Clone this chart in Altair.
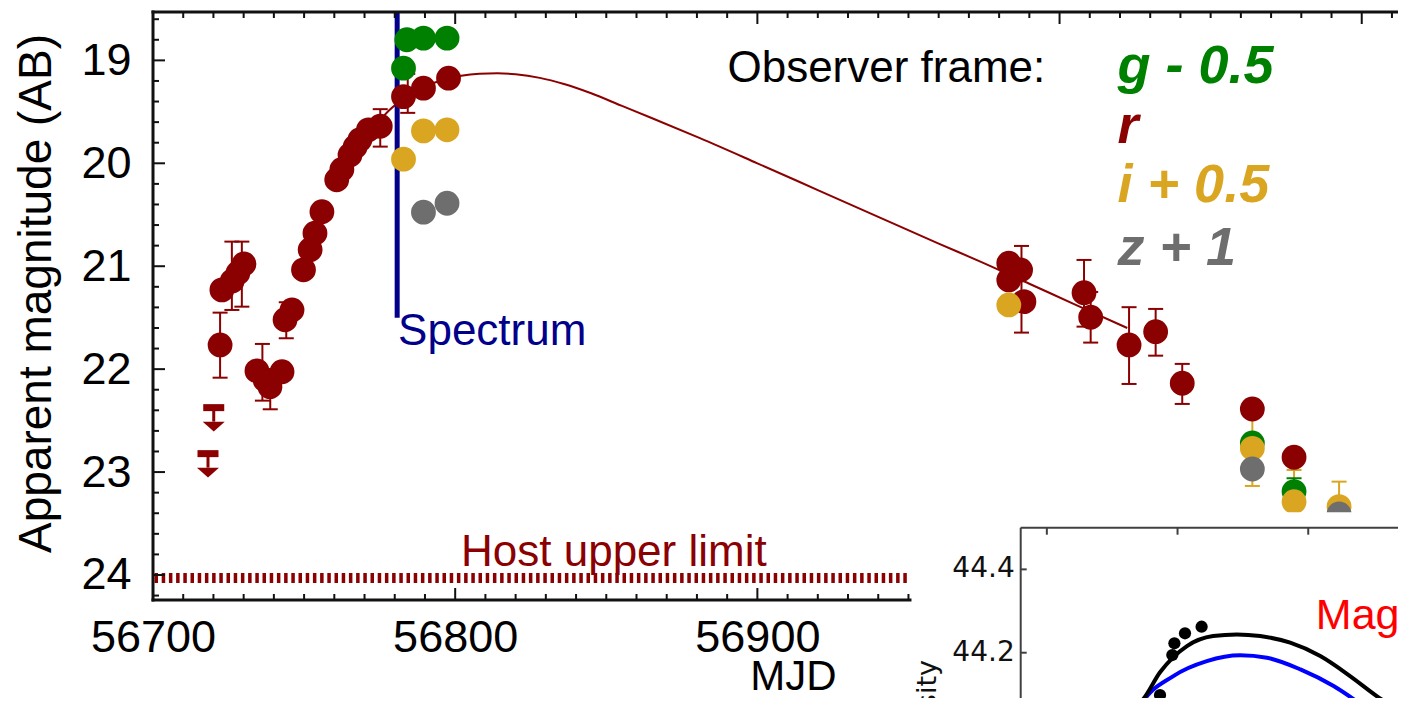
import altair as alt
import pandas as pd
import numpy as np

# ---------------- data ----------------
BAND_ORDER = ["r", "g", "i", "z"]
BAND_COLORS = ["#8B0000", "#008000", "#DAA520", "#6E6E6E"]

r_mjd = [56722.2, 56722.8, 56726.2, 56728.1, 56730.1, 56734.4, 56737.1, 56738.7, 56742.7,
         56743.7, 56746.0, 56749.8, 56752.0, 56753.6, 56755.9, 56760.8, 56762.5, 56765.2,
         56766.9, 56768.5, 56771.3, 56775.2, 56782.9, 56789.5, 56797.8,
         56983.2, 56987.1, 56983.2, 56988.2, 57008.1, 57010.3, 57023.0, 57031.8, 57040.6,
         57063.8, 57077.6]
r_mag = [21.765, 21.23, 21.144, 21.065, 20.978, 22.017, 22.105, 22.17, 22.025,
         21.52, 21.425, 21.035, 20.84, 20.68, 20.47, 20.16, 20.06, 19.92,
         19.84, 19.77, 19.675, 19.64, 19.352, 19.27, 19.173,
         20.971, 21.036, 21.133, 21.344, 21.257, 21.496, 21.765, 21.636, 22.137,
         22.387, 22.856]
g_mjd = [56782.9, 56784.0, 56789.5, 56797.3, 57063.8, 57077.6]
g_mag = [19.076, 18.80, 18.784, 18.784, 22.717, 23.19]
i_mjd = [56782.9, 56789.5, 56797.3, 56983.2, 57063.8, 57077.6, 57092.5]
i_mag = [19.96, 19.685, 19.675, 21.376, 22.769, 23.288, 23.336]
z_mjd = [56789.5, 56797.3, 57063.8, 57092.5]
z_mag = [20.475, 20.388, 22.97, 23.407]

# error bars: band, MJD, bright end, faint end
eb_band = ["r", "r", "r", "r", "r", "r", "r", "r", "r", "r", "r", "r", "r", "r",
           "i", "i", "g", "i"]
eb_mjd = [56722.2, 56726.1, 56729.4, 56736.2, 56738.8, 56744.1, 56775.2, 56784.3,
          56987.4, 57008.1, 57010.3, 57023.0, 57031.8, 57040.6,
          57063.8, 57077.6, 57077.6, 57092.5]
eb_lo = [21.451, 20.761, 20.761, 21.755, 22.0, 21.35, 19.474, 19.131,
         20.803, 20.939, 21.25, 21.398, 21.415, 21.949,
         22.4, 22.98, 23.06, 23.093]
eb_hi = [22.083, 21.425, 21.393, 22.306, 22.39, 21.70, 19.838, 19.51,
         21.645, 21.587, 21.742, 22.144, 21.869, 22.338,
         23.135, 23.6, 23.32, 23.6]

# r-band upper limits
ul_mjd = [56720.1, 56718.2]
ul_mag = [22.374, 22.821]

# r-band model curve
model_mjd = [56774, 56778, 56784, 56790, 56796, 56802, 56808, 56814, 56820, 56828, 56836,
             56845, 56855, 56865, 56881, 56900, 56920, 56940, 56960, 56973.8, 56990,
             57005, 57022.4]
model_mag = [19.62, 19.49, 19.35, 19.25, 19.19, 19.15, 19.13, 19.125, 19.135, 19.17, 19.23,
             19.32, 19.44, 19.56, 19.756, 20.0, 20.26, 20.52, 20.78, 20.955, 21.17,
             21.37, 21.60]

spectrum_mjd = 56780.8
spectrum_end = 21.50
host_limit = 24.03
host_range = [56700.5, 56950]

legend_labels = ["g - 0.5", "r", "i + 0.5", "z + 1"]
legend_bands = ["g", "r", "i", "z"]
legend_mag = [19.222, 19.802, 20.372, 20.987]
legend_mjd = 57019.2

# inset (luminosity vs time)
inset_pt_t = [43.3, 48.0, 48.8, 52.85, 59.2]
inset_pt_L = [44.0985, 44.1945, 44.2226, 44.2466, 44.2624]
inset_tot_t = [29.5, 33.1, 36.8, 43.3, 53.6, 63.6, 72.7, 81.6, 93.1, 104.6, 116.0, 126.2, 135.2]
inset_tot_L = [44.02, 44.067, 44.088, 44.153, 44.216, 44.240, 44.244, 44.240, 44.224, 44.192,
               44.144, 44.096, 44.059]
inset_mag_t = [33.0, 35.7, 48.4, 61.2, 74.0, 84.2, 97.0, 109.7, 121.1, 131.4]
inset_mag_L = [44.04, 44.072, 44.144, 44.180, 44.194, 44.188, 44.160, 44.120, 44.072, 44.026]
inset_xticks = [0, 50, 100]
inset_yticks = [44.2, 44.4]

# ---------------- layout constants ----------------
X_MIN, X_MAX = 56700, 57112
W, H = 1245, 588
Y_TOP, Y_BOT = 18.53, 24.243
PXX = W / (X_MAX - X_MIN)
PXY = H / (Y_BOT - Y_TOP)

IX_DOM = [-10, 140]
IY_DOM = [44.0, 44.5]
IPXX = 2.614
IPXY = 416.7
IX_RANGE = [867.7, 867.7 + 150 * IPXX]
IY_RANGE = [515.7 + 0.5 * IPXY, 515.7]

SANS = "Liberation Sans, Arial"

XS = alt.Scale(domain=[X_MIN, X_MAX], nice=False, zero=False)
YS = alt.Scale(domain=[Y_TOP, Y_BOT], reverse=True, nice=False, zero=False)
COLOR = alt.Color("band:N", scale=alt.Scale(domain=BAND_ORDER, range=BAND_COLORS), legend=None)

XAXIS = alt.Axis(values=[56700, 56800, 56900], format="d", title="MJD", grid=False,
                 domain=False, ticks=False, tickSize=0, labelFont=SANS, labelFontSize=45,
                 labelColor="black", labelPadding=15, labelFlush=False, labelOverlap=False,
                 titleFont=SANS, titleFontSize=42, titleFontWeight="normal",
                 titleColor="black", titleX=640, titleY=89, titleAlign="center",
                 titleBaseline="alphabetic")
YAXIS = alt.Axis(values=[19, 20, 21, 22, 23, 24], format="d", title="Apparent magnitude (AB)",
                 grid=False, domain=False, ticks=False, tickSize=0, labelFont=SANS,
                 labelFontSize=45, labelColor="black", labelPadding=22, labelOverlap=False,
                 titleFont=SANS, titleFontSize=46, titleFontWeight="normal", titleColor="black",
                 titleAngle=270, titleX=-103, titleY=281, titleAlign="center",
                 titleBaseline="alphabetic")


def X(f):
    return alt.X(f, type="quantitative", scale=XS, axis=XAXIS)


def Y(f):
    return alt.Y(f, type="quantitative", scale=YS, axis=YAXIS)


def IX(f):
    return alt.X(f, type="quantitative", scale=alt.Scale(domain=IX_DOM, range=IX_RANGE,
                                                            nice=False, zero=False), axis=None)


def IY(f):
    return alt.Y(f, type="quantitative", scale=alt.Scale(domain=IY_DOM, range=IY_RANGE,
                                                            nice=False, zero=False), axis=None)


# ---------------- tables ----------------
pts = pd.concat([
    pd.DataFrame({"band": "r", "mjd": r_mjd, "mag": r_mag}),
    pd.DataFrame({"band": "g", "mjd": g_mjd, "mag": g_mag}),
    pd.DataFrame({"band": "i", "mjd": i_mjd, "mag": i_mag}),
    pd.DataFrame({"band": "z", "mjd": z_mjd, "mag": z_mag}),
], ignore_index=True)

CAP = 7.5 / PXX
eb = pd.DataFrame({"band": eb_band, "mjd": eb_mjd, "lo": eb_lo, "hi": eb_hi})
eb["c0"] = eb["mjd"] - CAP
eb["c1"] = eb["mjd"] + CAP
caps = pd.concat([eb.assign(cy=eb["lo"]), eb.assign(cy=eb["hi"])], ignore_index=True)

ul = pd.DataFrame({"mjd": ul_mjd, "mag": ul_mag})
ul["b0"] = ul["mjd"] - 10.5 / PXX
ul["b1"] = ul["mjd"] + 10.5 / PXX
ul["stem"] = ul["mag"] + 14 / PXY
ul["arrow"] = ul["mag"] + 19 / PXY

model = pd.DataFrame({"mjd": model_mjd, "mag": model_mag})
spec = pd.DataFrame({"mjd": [spectrum_mjd], "y0": [Y_TOP], "y1": [spectrum_end]})
host = pd.DataFrame({"x0": [host_range[0]], "x1": [host_range[1]], "mag": [host_limit]})

leg = pd.DataFrame({"label": legend_labels, "band": legend_bands, "mag": legend_mag,
                    "mjd": legend_mjd})

xt = np.arange(X_MIN + 10, X_MAX, 10)
xmaj = (xt % 100) == 0
tl = np.where(xmaj, 12, 6)
top_t = pd.DataFrame({"x": xt, "y0": Y_TOP, "y1": Y_TOP + tl / PXY})
bot_t = pd.DataFrame({"x": xt, "y0": Y_BOT, "y1": Y_BOT - tl / PXY})
yt = np.round(np.arange(18.6, 24.21, 0.2), 1)
ymaj = np.abs(yt - np.round(yt)) < 1e-6
yl = np.where(ymaj, 12, 6)
left_t = pd.DataFrame({"y": yt, "x0": X_MIN, "x1": X_MIN + yl / PXX})
frame_h = pd.DataFrame({"x0": [X_MIN, X_MIN], "x1": [X_MAX, X_MAX], "y": [Y_TOP, Y_BOT]})
frame_v = pd.DataFrame({"x": [X_MIN], "y0": [Y_TOP], "y1": [Y_BOT]})
cover = pd.DataFrame({"x0": [56951], "x1": [57140], "y0": [23.39], "y1": [25.8]})

# ---------------- main layers ----------------
host_l = alt.Chart(host).mark_rule(color="#8B0000", strokeWidth=10, strokeDash=[3.5, 3.7]).encode(
    x=X("x0"), x2="x1", y=Y("mag"))
model_l = alt.Chart(model).mark_line(color="#8B0000", strokeWidth=2, interpolate="monotone").encode(
    x=X("mjd"), y=Y("mag"))
spec_l = alt.Chart(spec).mark_rule(color="#00008B", strokeWidth=5).encode(
    x=X("mjd"), y=Y("y0"), y2="y1")
eb_l = alt.Chart(eb).mark_rule(strokeWidth=2).encode(
    x=X("mjd"), y=Y("lo"), y2="hi", color=COLOR)
cap_l = alt.Chart(caps).mark_rule(strokeWidth=2).encode(
    x=X("c0"), x2="c1", y=Y("cy"), color=COLOR)
ul_bar = alt.Chart(ul).mark_rule(color="#8B0000", strokeWidth=7).encode(
    x=X("b0"), x2="b1", y=Y("mag"))
ul_stem = alt.Chart(ul).mark_rule(color="#8B0000", strokeWidth=3).encode(
    x=X("mjd"), y=Y("mag"), y2="stem")
ul_arrow = alt.Chart(ul).mark_point(shape="M-1,-0.45L1,-0.45L0,0.45Z", filled=True,
                                    color="#8B0000", size=484, opacity=1).encode(
    x=X("mjd"), y=Y("arrow"))
pts_l = alt.Chart(pts).mark_circle(size=616, opacity=1).encode(
    x=X("mjd"), y=Y("mag"), color=COLOR)

obs_t = alt.Chart(pd.DataFrame({"t": ["Observer frame:"], "mjd": [56890.1], "mag": [19.209]})
                  ).mark_text(font=SANS, fontSize=44, align="left", baseline="alphabetic",
                              color="black").encode(x=X("mjd"), y=Y("mag"), text="t:N")
leg_t = alt.Chart(leg).mark_text(font=SANS, fontSize=54, fontStyle="italic", fontWeight="bold",
                                 align="left", baseline="alphabetic").encode(
    x=X("mjd"), y=Y("mag"), text="label:N", color=COLOR)
spec_t = alt.Chart(pd.DataFrame({"t": ["Spectrum"], "mjd": [56781.1], "mag": [21.765]})
                   ).mark_text(font=SANS, fontSize=44, align="left", baseline="alphabetic",
                               color="#00008B").encode(x=X("mjd"), y=Y("mag"), text="t:N")
host_t = alt.Chart(pd.DataFrame({"t": ["Host upper limit"], "mjd": [56852.5], "mag": [23.91]})
                   ).mark_text(font=SANS, fontSize=44, align="center", baseline="alphabetic",
                               color="#8B0000").encode(x=X("mjd"), y=Y("mag"), text="t:N")

tick_top = alt.Chart(top_t).mark_rule(color="#111111", strokeWidth=2).encode(
    x=X("x"), y=Y("y0"), y2="y1")
tick_bot = alt.Chart(bot_t).mark_rule(color="#111111", strokeWidth=2).encode(
    x=X("x"), y=Y("y0"), y2="y1")
tick_left = alt.Chart(left_t).mark_rule(color="#111111", strokeWidth=2).encode(
    x=X("x0"), x2="x1", y=Y("y"))
fr_h = alt.Chart(frame_h).mark_rule(color="#111111", strokeWidth=3, strokeCap="square").encode(
    x=X("x0"), x2="x1", y=Y("y"))
fr_v = alt.Chart(frame_v).mark_rule(color="#111111", strokeWidth=3, strokeCap="square").encode(
    x=X("x"), y=Y("y0"), y2="y1")
cover_l = alt.Chart(cover).mark_rect(color="white").encode(
    x=X("x0"), x2="x1", y=Y("y0"), y2="y1")

main = alt.layer(host_l, model_l, spec_l, eb_l, cap_l, ul_bar, ul_stem, ul_arrow, pts_l,
                 obs_t, leg_t, spec_t, host_t, tick_top, tick_bot, tick_left, fr_h, fr_v,
                 cover_l)

# ---------------- inset layers ----------------
ifr = pd.DataFrame({"x0": [IX_DOM[0]], "x1": [IX_DOM[1]], "y": [IY_DOM[1]]})
ifv = pd.DataFrame({"x": [IX_DOM[0]], "y0": [IY_DOM[1]], "y1": [43.9]})
itx = pd.DataFrame({"x": inset_xticks, "y0": IY_DOM[1], "y1": IY_DOM[1] - 7 / IPXY})
ity = pd.DataFrame({"y": inset_yticks, "x0": IX_DOM[0], "x1": IX_DOM[0] + 6 / IPXX,
                    "lab": [f"{v:.1f}" for v in inset_yticks]})

in_fh = alt.Chart(ifr).mark_rule(color="#404040", strokeWidth=2).encode(
    x=IX("x0"), x2="x1", y=IY("y"))
in_fv = alt.Chart(ifv).mark_rule(color="#404040", strokeWidth=2).encode(
    x=IX("x"), y=IY("y0"), y2="y1")
in_tx = alt.Chart(itx).mark_rule(color="#404040", strokeWidth=2).encode(
    x=IX("x"), y=IY("y0"), y2="y1")
in_ty = alt.Chart(ity).mark_rule(color="#404040", strokeWidth=2).encode(
    x=IX("x0"), x2="x1", y=IY("y"))
in_lab = alt.Chart(ity).mark_text(font="DejaVu Sans", fontSize=28, align="right",
                                  baseline="middle", dx=-6, color="#111111").encode(
    x=IX("x0"), y=IY("y"), text="lab:N")
in_title = alt.Chart(pd.DataFrame({"t": ["Luminosity"], "x": [-42.4], "y": [44.1825]})
                     ).mark_text(font="DejaVu Sans", fontSize=27, angle=270, align="right",
                                 baseline="alphabetic", color="#111111").encode(
    x=IX("x"), y=IY("y"), text="t:N")
in_tot = alt.Chart(pd.DataFrame({"t": inset_tot_t, "L": inset_tot_L})).mark_line(
    color="black", strokeWidth=4, interpolate="monotone").encode(x=IX("t"), y=IY("L"))
in_mag = alt.Chart(pd.DataFrame({"t": inset_mag_t, "L": inset_mag_L})).mark_line(
    color="#0000FF", strokeWidth=4, interpolate="monotone").encode(x=IX("t"), y=IY("L"))
in_pts = alt.Chart(pd.DataFrame({"t": inset_pt_t, "L": inset_pt_L})).mark_circle(
    color="black", size=150, opacity=1).encode(x=IX("t"), y=IY("L"))
in_txt = alt.Chart(pd.DataFrame({"t": ["Mag"], "x": [102.9], "y": [44.2557]})
                   ).mark_text(font=SANS, fontSize=43, align="left", baseline="alphabetic",
                               color="#FF0000").encode(x=IX("x"), y=IY("y"), text="t:N")

inset = alt.layer(in_fh, in_fv, in_tx, in_ty, in_lab, in_title, in_mag, in_tot, in_pts, in_txt)

chart = alt.layer(main, inset).resolve_scale(x="independent", y="independent").properties(
    width=W, height=H, autosize=alt.AutoSizeParams(type="none"),
    padding={"left": 145, "top": 4, "right": 0, "bottom": 98}
).configure_view(stroke=None).configure(background="white")

chart.save("out.html", embed_options={"renderer": "svg", "actions": False})
